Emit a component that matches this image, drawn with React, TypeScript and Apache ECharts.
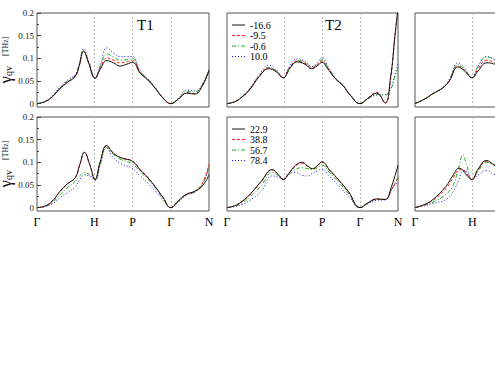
import React, { useEffect, useRef } from 'react';
import * as echarts from 'echarts';

const SERIF = '"Liberation Serif", "DejaVu Serif", serif';

// Axis ticks
const X_TICK_VALUES = [0, 1.5, 2.5, 3.5, 4.5];
const X_TICK_LABELS = ['Γ', 'H', 'P', 'Γ', 'N'];
const Y_TICK_VALUES = [0, 0.05, 0.1, 0.15, 0.2];
const Y_TICK_LABELS = ['0', '0.05', '0.1', '0.15', '0.2'];
const Y_MINOR_TICKS = [0.025, 0.075, 0.125, 0.175];
const SYMMETRY_LINES = [1.5, 2.5, 3.5];

// Legend names
const TOP_NAMES = ['-16.6', '-9.5', '-0.6', '10.0'];
const BOTTOM_NAMES = ['22.9', '38.8', '56.7', '78.4'];
const TITLES = ['T1', 'T2'];

// Panel 1, top row (T1)
const P1T_X = [0, 0.2, 0.4, 0.6, 0.8, 1.0, 1.1, 1.22, 1.35, 1.52, 1.65, 1.83, 2.0, 2.17, 2.35, 2.5, 2.7, 2.9, 3.1, 3.3, 3.5, 3.7, 3.92, 4.13, 4.3, 4.5];
const P1T_K = [0, 0.004, 0.015, 0.033, 0.047, 0.06, 0.082, 0.115, 0.09, 0.056, 0.075, 0.095, 0.09, 0.083, 0.087, 0.091, 0.067, 0.052, 0.033, 0.012, 0, 0.01, 0.023, 0.021, 0.035, 0.073];
const P1T_R = [0, 0.004, 0.015, 0.034, 0.048, 0.061, 0.083, 0.116, 0.091, 0.056, 0.078, 0.101, 0.096, 0.09, 0.092, 0.095, 0.069, 0.053, 0.033, 0.012, 0, 0.01, 0.024, 0.022, 0.036, 0.073];
const P1T_G = [0, 0.004, 0.016, 0.035, 0.05, 0.062, 0.084, 0.118, 0.092, 0.056, 0.081, 0.11, 0.103, 0.096, 0.097, 0.099, 0.07, 0.054, 0.034, 0.012, 0, 0.011, 0.027, 0.025, 0.038, 0.074];
const P1T_B = [0, 0.004, 0.017, 0.037, 0.052, 0.064, 0.086, 0.121, 0.094, 0.057, 0.085, 0.123, 0.112, 0.104, 0.104, 0.104, 0.072, 0.055, 0.035, 0.013, 0, 0.012, 0.03, 0.028, 0.04, 0.075];

// Panel 2, top row (T2)
const P2T_X = [0, 0.2, 0.4, 0.6, 0.85, 1.1, 1.3, 1.48, 1.65, 1.85, 2.05, 2.23, 2.37, 2.5, 2.65, 2.85, 3.05, 3.25, 3.5, 3.7, 3.94, 4.16, 4.3, 4.42, 4.5];
const P2T_K = [0, 0.004, 0.015, 0.031, 0.06, 0.077, 0.07, 0.057, 0.078, 0.092, 0.087, 0.077, 0.083, 0.091, 0.077, 0.055, 0.04, 0.018, 0, 0.011, 0.023, 0.002, 0.055, 0.15, 0.21];
const P2T_R = [0, 0.004, 0.015, 0.032, 0.061, 0.079, 0.071, 0.057, 0.08, 0.094, 0.089, 0.079, 0.085, 0.094, 0.079, 0.056, 0.04, 0.018, 0, 0.012, 0.025, 0.0, 0.052, 0.15, 0.21];
const P2T_G = [0, 0.004, 0.015, 0.032, 0.061, 0.08, 0.072, 0.057, 0.075, 0.095, 0.092, 0.08, 0.087, 0.097, 0.08, 0.056, 0.04, 0.018, 0, 0.01, 0.02, 0.019, 0.03, 0.06, 0.079];
const P2T_B = [0, 0.004, 0.016, 0.034, 0.064, 0.085, 0.075, 0.058, 0.083, 0.099, 0.093, 0.082, 0.09, 0.102, 0.083, 0.057, 0.041, 0.019, 0, 0.01, 0.019, 0.02, 0.032, 0.065, 0.088];

// Panel 3, top row (only left part visible)
const P3T_X = [0, 0.25, 0.47, 0.73, 0.9, 1.12, 1.3, 1.49, 1.65, 1.87, 2.05, 2.25];
const P3T_K = [0, 0.01, 0.022, 0.035, 0.05, 0.081, 0.072, 0.057, 0.072, 0.09, 0.088, 0.08];
const P3T_R = [0, 0.01, 0.022, 0.035, 0.051, 0.083, 0.073, 0.057, 0.077, 0.096, 0.092, 0.084];
const P3T_G = [0, 0.01, 0.022, 0.035, 0.052, 0.086, 0.075, 0.057, 0.082, 0.103, 0.098, 0.088];
const P3T_B = [0, 0.01, 0.022, 0.036, 0.054, 0.09, 0.078, 0.058, 0.083, 0.104, 0.099, 0.089];

// Panel 1, bottom row
const P1B_X = [0, 0.2, 0.4, 0.6, 0.8, 1.0, 1.12, 1.24, 1.38, 1.52, 1.65, 1.82, 2.0, 2.2, 2.5, 2.7, 2.9, 3.1, 3.3, 3.5, 3.7, 3.9, 4.15, 4.35, 4.5];
const P1B_K = [0, 0.003, 0.014, 0.036, 0.053, 0.066, 0.095, 0.122, 0.095, 0.062, 0.1, 0.137, 0.12, 0.11, 0.102, 0.083, 0.066, 0.045, 0.022, 0, 0.015, 0.029, 0.037, 0.05, 0.073];
const P1B_R = [0, 0.003, 0.014, 0.035, 0.052, 0.066, 0.095, 0.122, 0.095, 0.062, 0.1, 0.136, 0.12, 0.11, 0.103, 0.084, 0.067, 0.046, 0.022, 0, 0.015, 0.029, 0.037, 0.058, 0.096];
const P1B_G = [0, 0.003, 0.011, 0.028, 0.044, 0.058, 0.07, 0.078, 0.072, 0.062, 0.095, 0.133, 0.117, 0.106, 0.096, 0.079, 0.063, 0.043, 0.02, 0, 0.014, 0.028, 0.036, 0.056, 0.092];
const P1B_B = [0, 0.002, 0.008, 0.022, 0.033, 0.046, 0.062, 0.072, 0.069, 0.06, 0.093, 0.131, 0.11, 0.097, 0.086, 0.07, 0.054, 0.036, 0.017, 0, 0.012, 0.027, 0.035, 0.055, 0.09];

// Panel 2, bottom row
const P2B_X = [0, 0.2, 0.4, 0.6, 0.9, 1.19, 1.35, 1.48, 1.62, 1.8, 1.98, 2.12, 2.25, 2.38, 2.5, 2.7, 2.95, 3.2, 3.5, 3.7, 3.94, 4.16, 4.33, 4.5];
const P2B_K = [0, 0.004, 0.014, 0.029, 0.058, 0.084, 0.073, 0.062, 0.075, 0.093, 0.1, 0.092, 0.086, 0.093, 0.101, 0.083, 0.06, 0.035, 0, 0.01, 0.019, 0.018, 0.047, 0.094];
const P2B_R = [0, 0.004, 0.014, 0.028, 0.057, 0.083, 0.073, 0.062, 0.074, 0.091, 0.098, 0.091, 0.085, 0.092, 0.1, 0.082, 0.059, 0.034, 0, 0.01, 0.019, 0.018, 0.04, 0.065];
const P2B_G = [0, 0.003, 0.011, 0.023, 0.048, 0.078, 0.07, 0.062, 0.072, 0.084, 0.088, 0.086, 0.084, 0.088, 0.094, 0.077, 0.055, 0.031, 0, 0.009, 0.018, 0.018, 0.04, 0.068];
const P2B_B = [0, 0.002, 0.007, 0.016, 0.036, 0.07, 0.067, 0.062, 0.074, 0.078, 0.071, 0.07, 0.076, 0.081, 0.085, 0.069, 0.047, 0.025, 0, 0.008, 0.016, 0.017, 0.038, 0.058];

// Panel 3, bottom row (only left part visible)
const P3B_X = [0, 0.25, 0.47, 0.81, 1.0, 1.15, 1.25, 1.35, 1.49, 1.65, 1.87, 2.05, 2.25];
const P3B_K = [0, 0.007, 0.018, 0.047, 0.072, 0.087, 0.083, 0.072, 0.062, 0.085, 0.104, 0.095, 0.085];
const P3B_R = [0, 0.006, 0.016, 0.042, 0.066, 0.083, 0.084, 0.075, 0.062, 0.083, 0.102, 0.095, 0.087];
const P3B_G = [0, 0.005, 0.012, 0.029, 0.05, 0.09, 0.116, 0.095, 0.062, 0.08, 0.1, 0.096, 0.088];
const P3B_B = [0, 0.004, 0.009, 0.018, 0.035, 0.062, 0.08, 0.079, 0.062, 0.072, 0.082, 0.074, 0.07];

const PANELS = [
  { x: P1T_X, ys: [P1T_K, P1T_R, P1T_G, P1T_B], names: TOP_NAMES },
  { x: P2T_X, ys: [P2T_K, P2T_R, P2T_G, P2T_B], names: TOP_NAMES },
  { x: P3T_X, ys: [P3T_K, P3T_R, P3T_G, P3T_B], names: TOP_NAMES },
  { x: P1B_X, ys: [P1B_K, P1B_R, P1B_G, P1B_B], names: BOTTOM_NAMES },
  { x: P2B_X, ys: [P2B_K, P2B_R, P2B_G, P2B_B], names: BOTTOM_NAMES },
  { x: P3B_X, ys: [P3B_K, P3B_R, P3B_G, P3B_B], names: BOTTOM_NAMES },
];

const COL_LEFT = [37, 227, 415];
const COL_WIDTH = [172, 171, 172];
const ROW_TOP = [13, 117];
const ROW_HEIGHT = 94;
const Y_MIN = -0.0075;
const Y_MAX = 0.2;

const LINE_COLORS = ['#111111', '#ff1a1a', '#17b317', '#1a1aff'];
const LINE_TYPES: any[] = ['solid', [3, 2], [4, 2, 1, 2], [1, 2]];
const LEGEND_LEFT = 232;
const LEGEND_TOPS = [25, 129];
const LEGEND_STEP = 10.5;

function tickLabel(values: number[], labels: string[]) {
  return (v: number) => {
    const i = values.findIndex((t) => Math.abs(t - v) < 1e-9);
    return i >= 0 ? labels[i] : '';
  };
}

function legendGraphic(names: string[], top: number) {
  const children: any[] = [];
  names.forEach((n, j) => {
    const y = top + j * LEGEND_STEP;
    children.push({
      type: 'line',
      silent: true,
      shape: { x1: LEGEND_LEFT, y1: y, x2: LEGEND_LEFT + 13, y2: y },
      style: {
        stroke: LINE_COLORS[j],
        lineWidth: 1,
        lineDash: Array.isArray(LINE_TYPES[j]) ? LINE_TYPES[j] : null,
      },
    });
    children.push({
      type: 'text',
      silent: true,
      x: LEGEND_LEFT + 18,
      y,
      style: {
        text: n,
        fill: '#000',
        font: `10px ${SERIF}`,
        verticalAlign: 'middle',
        align: 'left',
      },
    });
  });
  return { type: 'group', children };
}

function buildOption() {
  const grid: any[] = [];
  const xAxis: any[] = [];
  const yAxis: any[] = [];
  const series: any[] = [];

  PANELS.forEach((p, i) => {
    const row = Math.floor(i / 3);
    const col = i % 3;
    grid.push({
      left: COL_LEFT[col],
      top: ROW_TOP[row],
      width: COL_WIDTH[col],
      height: ROW_HEIGHT,
      show: true,
      borderColor: '#555',
      borderWidth: 1,
      containLabel: false,
      outerBoundsMode: 'none',
    });
    xAxis.push({
      type: 'value',
      gridIndex: i,
      min: 0,
      max: 4.5,
      axisLine: { show: false, onZero: false },
      axisTick: { show: false },
      splitLine: { show: false },
      axisLabel:
        row === 1
          ? {
              show: true,
              customValues: X_TICK_VALUES,
              formatter: tickLabel(X_TICK_VALUES, X_TICK_LABELS),
              fontFamily: SERIF,
              fontSize: 12,
              color: '#000',
              margin: 5,
              hideOverlap: false,
              showMinLabel: true,
              showMaxLabel: true,
            }
          : { show: false },
    });
    yAxis.push({
      type: 'value',
      gridIndex: i,
      min: Y_MIN,
      max: Y_MAX,
      position: 'left',
      axisLine: { show: false },
      splitLine: { show: false },
      axisTick:
        col === 0
          ? { show: true, inside: true, length: 4, customValues: Y_TICK_VALUES, lineStyle: { color: '#444' } }
          : { show: false },
      axisLabel:
        col === 0
          ? {
              show: true,
              customValues: Y_TICK_VALUES,
              formatter: tickLabel(Y_TICK_VALUES, Y_TICK_LABELS),
              fontFamily: SERIF,
              fontSize: 9,
              color: '#222',
              margin: 3,
            }
          : { show: false },
      name: col === 0 ? '{g|γ}{s|qv}{sp|}{u|[THz]}' : '',
      nameLocation: 'middle',
      nameRotate: 90,
      nameGap: 21,
      nameTextStyle: {
        fontFamily: SERIF,
        color: '#111',
        rich: {
          g: { fontFamily: SERIF, fontSize: 17, lineHeight: 14, color: '#111' },
          s: { fontFamily: SERIF, fontSize: 10, lineHeight: 14, padding: [5, 0, 0, 0], color: '#111' },
          sp: { width: 10, lineHeight: 14 },
          u: { fontFamily: SERIF, fontSize: 8, lineHeight: 14, color: '#111' },
        },
      },
    });
    p.ys.forEach((vals, j) => {
      const s: any = {
        type: 'line',
        name: p.names[j],
        xAxisIndex: i,
        yAxisIndex: i,
        data: p.x.map((x, k) => [x, vals[k]]),
        smooth: 0.45,
        symbol: 'none',
        clip: true,
        lineStyle: { color: LINE_COLORS[j], width: 1, type: LINE_TYPES[j] },
        itemStyle: { color: LINE_COLORS[j] },
        z: 10 - j,
      };
      if (j === 0) {
        s.markLine = {
          silent: true,
          symbol: 'none',
          label: { show: false },
          lineStyle: { color: '#bdbdbd', type: [2, 2], width: 1 },
          data: SYMMETRY_LINES.map((v) => ({ xAxis: v })),
        };
      }
      series.push(s);
    });
  });

  // minor ticks for the left column
  [0, 3].forEach((gi) => {
    yAxis.push({
      type: 'value',
      gridIndex: gi,
      min: Y_MIN,
      max: Y_MAX,
      position: 'left',
      axisLine: { show: false },
      splitLine: { show: false },
      axisLabel: { show: false },
      axisTick: { show: true, inside: true, length: 2, customValues: Y_MINOR_TICKS, lineStyle: { color: '#444' } },
    });
  });

  return {
    animation: false,
    backgroundColor: '#fff',
    textStyle: { fontFamily: SERIF },
    title: TITLES.map((t, i) => ({
      text: t,
      left: i === 0 ? 137 : 325,
      top: 17,
      padding: 0,
      textStyle: { fontFamily: SERIF, fontSize: 15, fontWeight: 'normal', color: '#000' },
    })),
    graphic: [legendGraphic(TOP_NAMES, LEGEND_TOPS[0]), legendGraphic(BOTTOM_NAMES, LEGEND_TOPS[1])],
    grid,
    xAxis,
    yAxis,
    series,
  };
}

export default function App() {
  const ref = useRef<HTMLDivElement>(null);
  useEffect(() => {
    document.body.style.margin = '0';
    const chart = echarts.init(ref.current!, null, { renderer: 'svg' });
    chart.setOption(buildOption() as any);
    return () => chart.dispose();
  }, []);
  return <div ref={ref} style={{ width: 495, height: 383 }} />;
}
